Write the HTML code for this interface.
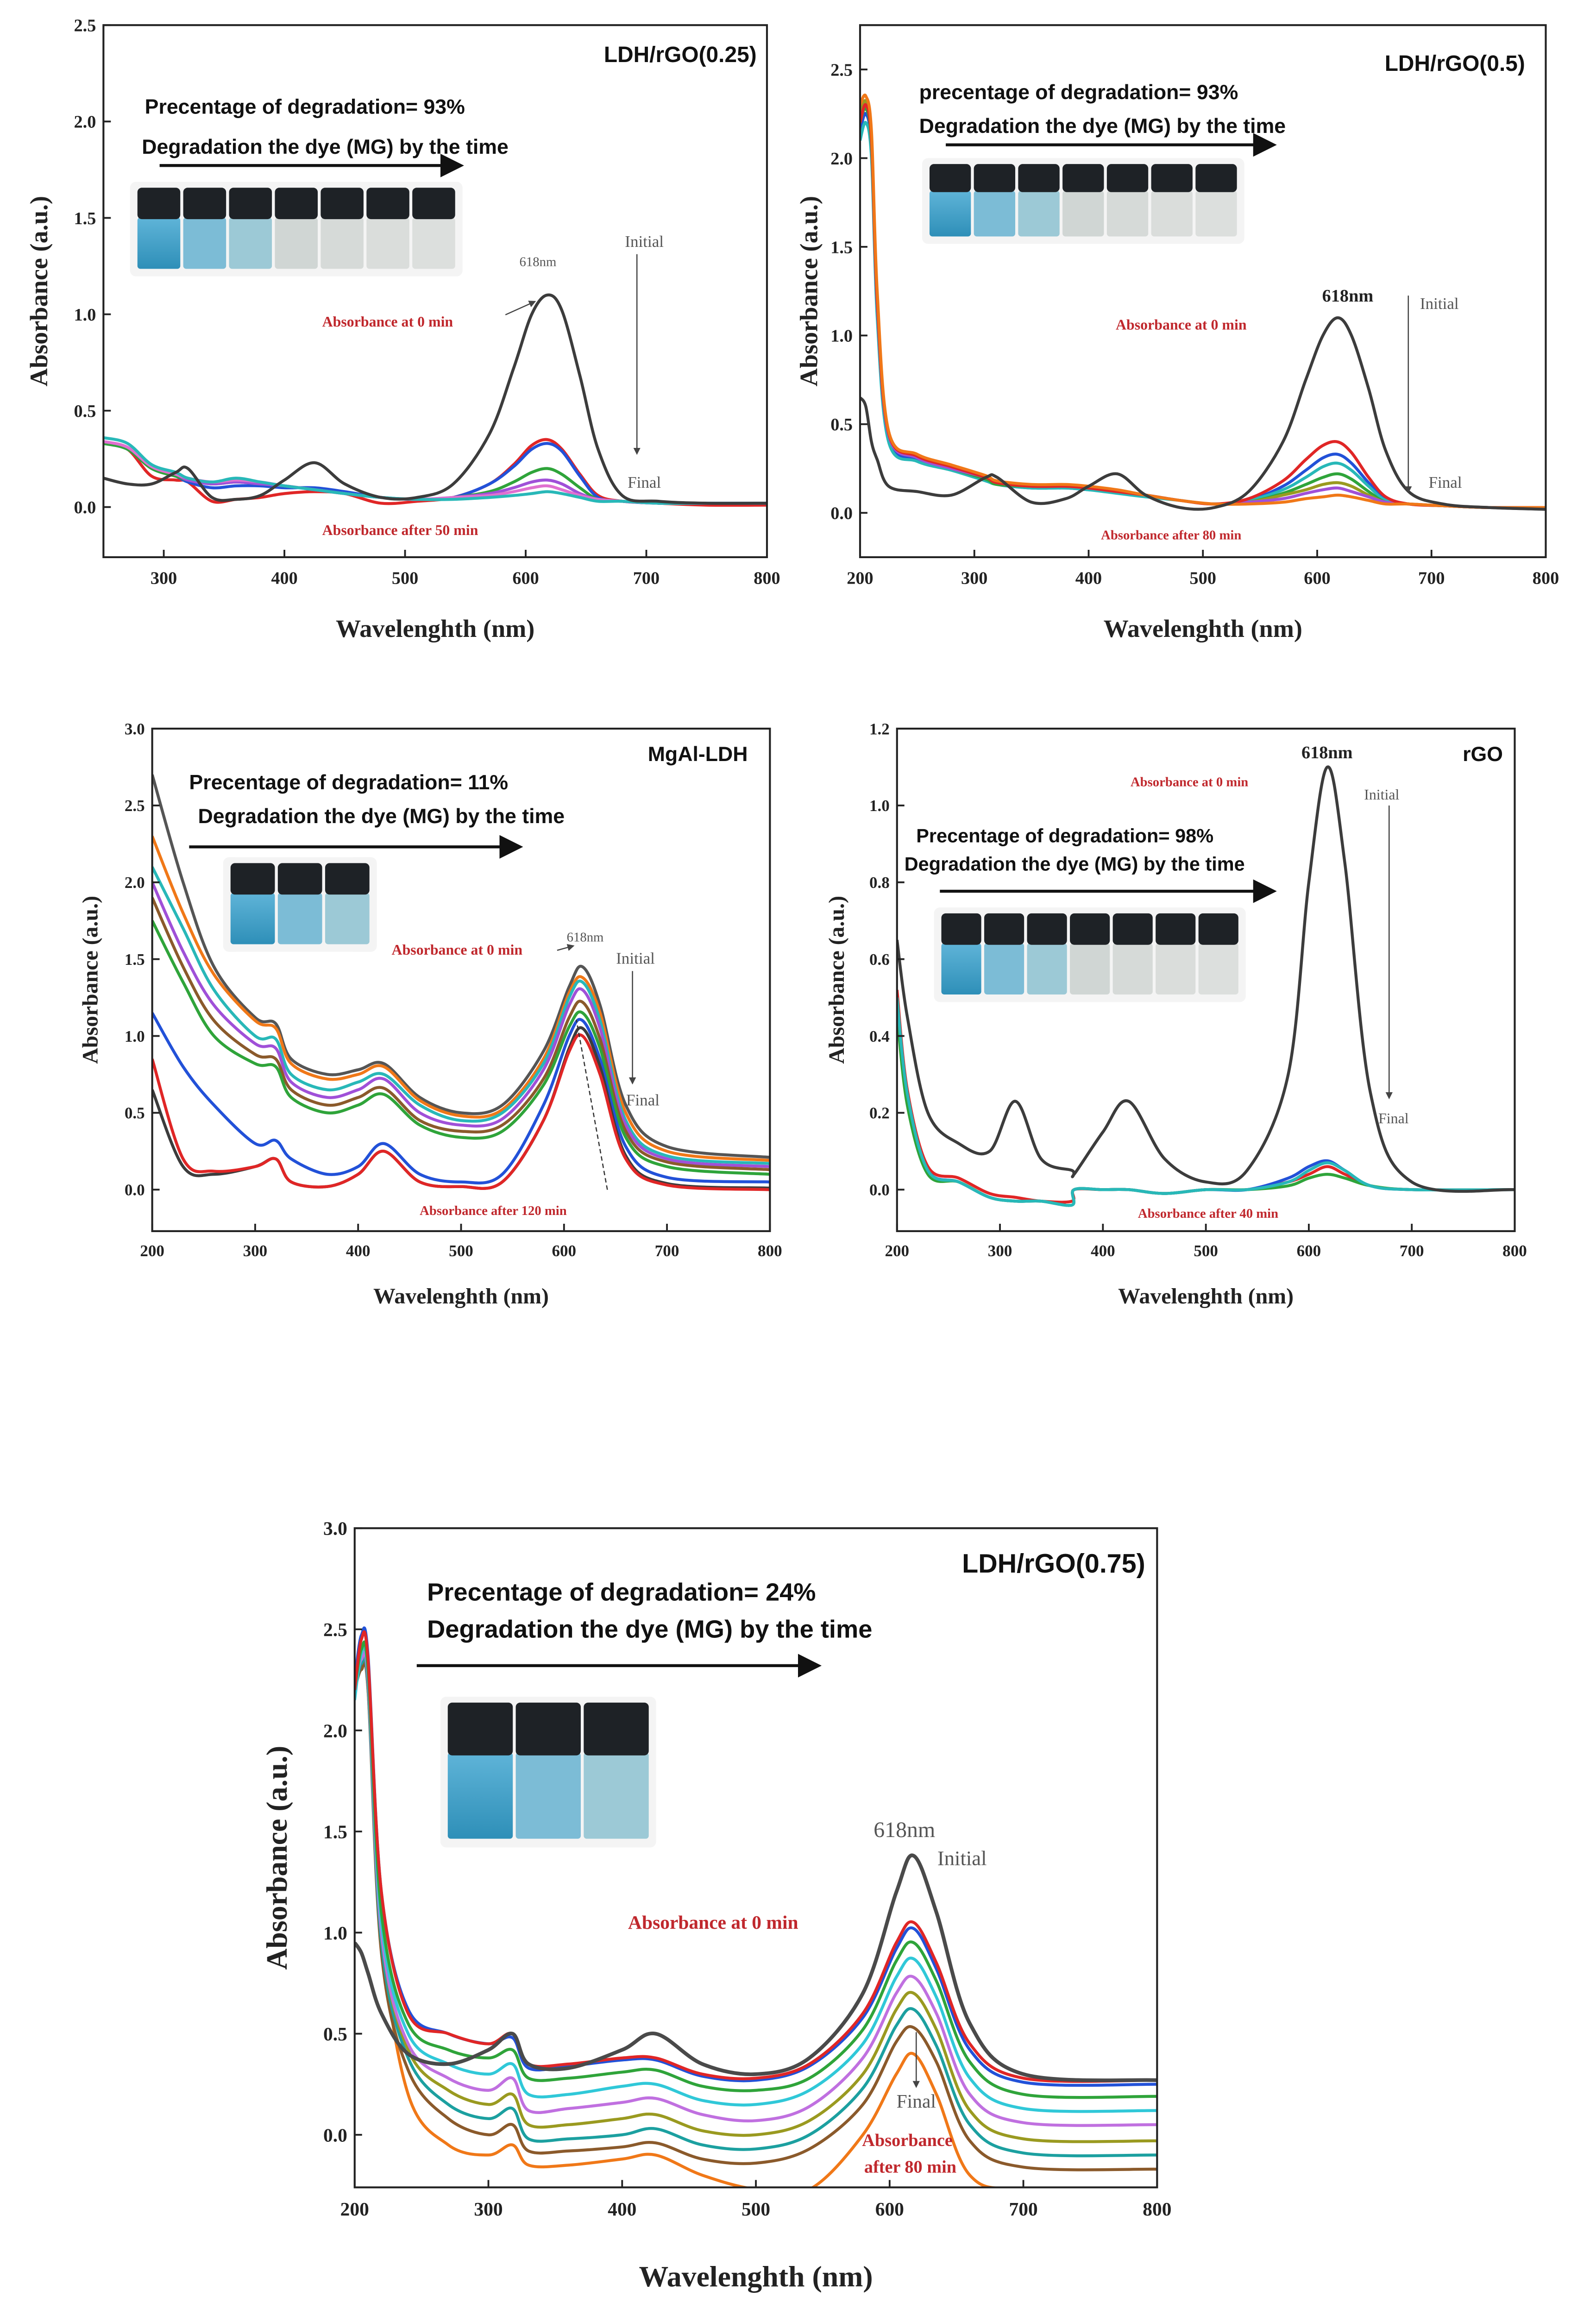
<!DOCTYPE html>
<html><head><meta charset="utf-8"><style>
html,body{margin:0;padding:0;background:#fff;width:3446px;height:5035px;overflow:hidden;}
svg{display:block;}
.ax{font-family:"Liberation Serif",serif;font-weight:bold;fill:#222;}
.sn{font-family:"Liberation Sans",sans-serif;font-weight:bold;fill:#111;}
.rd{font-family:"Liberation Serif",serif;font-weight:bold;fill:#c0282d;}
.gr{font-family:"Liberation Serif",serif;fill:#555;}
</style></head><body>
<svg id="fig" width="3446" height="5035" viewBox="0 0 1080 1578" preserveAspectRatio="none" xmlns="http://www.w3.org/2000/svg">
<defs>
<marker id="ah" markerWidth="8" markerHeight="8" refX="7" refY="4" orient="auto"><path d="M0,0 L8,4 L0,8 z" fill="#111"/></marker>
<marker id="ahs" markerWidth="6" markerHeight="6" refX="5" refY="3" orient="auto"><path d="M0,0 L6,3 L0,6 z" fill="#444"/></marker>
<linearGradient id="liq" x1="0" y1="0" x2="0" y2="1"><stop offset="0" stop-color="#5fb4d8"/><stop offset="1" stop-color="#2e8fb8"/></linearGradient>
</defs>
<g id="root"></g>
</svg>
<script>
// ---------- data ----------
const p1Wave=[250,270,290,310,320,340,360,380,400,425,450,480,510,540,570,590,605,618,630,645,660,680,710,750,800];
const p1Init=[0.15,0.12,0.12,0.18,0.2,0.05,0.04,0.06,0.14,0.23,0.12,0.05,0.05,0.12,0.38,0.72,1.0,1.1,1.02,0.68,0.3,0.06,0.03,0.02,0.02];
const p1Red=[0.33,0.3,0.16,0.14,0.13,0.03,0.04,0.05,0.07,0.08,0.07,0.02,0.03,0.05,0.12,0.22,0.32,0.35,0.3,0.17,0.06,0.03,0.02,0.01,0.01];
const p1Blue=[0.33,0.3,0.2,0.16,0.13,0.1,0.11,0.11,0.1,0.1,0.08,0.05,0.04,0.05,0.12,0.21,0.3,0.33,0.29,0.16,0.05,0.03,0.02,0.02,0.02];
const p1Green=[0.33,0.3,0.2,0.16,0.14,0.12,0.13,0.12,0.11,0.09,0.07,0.05,0.04,0.05,0.08,0.13,0.18,0.2,0.17,0.1,0.04,0.03,0.02,0.02,0.02];
const p1Purple=[0.34,0.31,0.21,0.17,0.14,0.12,0.13,0.12,0.11,0.09,0.07,0.05,0.04,0.05,0.07,0.1,0.13,0.14,0.12,0.07,0.04,0.03,0.02,0.02,0.02];
const p1Pink=[0.34,0.31,0.21,0.17,0.15,0.13,0.14,0.13,0.11,0.09,0.07,0.05,0.04,0.05,0.06,0.08,0.1,0.11,0.09,0.06,0.04,0.03,0.02,0.02,0.02];
const p1Cyan=[0.36,0.33,0.22,0.18,0.15,0.13,0.15,0.13,0.11,0.09,0.07,0.05,0.04,0.04,0.05,0.06,0.07,0.08,0.07,0.05,0.03,0.03,0.02,0.02,0.02];

const p2Wave=[200,205,210,215,225,250,280,310,320,350,380,400,425,450,480,510,540,570,590,605,618,630,645,660,680,710,750,800];
const p2Init=[0.65,0.6,0.4,0.3,0.15,0.12,0.1,0.2,0.2,0.06,0.08,0.15,0.22,0.1,0.03,0.03,0.12,0.4,0.75,1.0,1.1,1.0,0.7,0.35,0.12,0.05,0.03,0.02];
const p2Red=[2.2,2.3,2.1,1.2,0.45,0.32,0.26,0.2,0.17,0.15,0.15,0.14,0.12,0.1,0.07,0.05,0.08,0.18,0.3,0.38,0.4,0.34,0.2,0.09,0.05,0.04,0.03,0.03];
const p2Blue=[2.15,2.25,2.05,1.15,0.42,0.3,0.25,0.19,0.16,0.14,0.14,0.13,0.12,0.1,0.07,0.05,0.07,0.15,0.24,0.31,0.33,0.28,0.17,0.08,0.05,0.04,0.03,0.03];
const p2Cyan=[2.1,2.2,2.0,1.1,0.4,0.29,0.24,0.18,0.16,0.14,0.14,0.13,0.11,0.09,0.07,0.05,0.07,0.13,0.2,0.26,0.28,0.24,0.15,0.07,0.05,0.04,0.03,0.03];
const p2Green=[2.2,2.28,2.08,1.18,0.44,0.31,0.25,0.19,0.16,0.15,0.15,0.14,0.12,0.1,0.07,0.05,0.06,0.11,0.16,0.2,0.22,0.19,0.12,0.06,0.05,0.04,0.03,0.03];
const p2Olive=[2.25,2.32,2.1,1.2,0.45,0.32,0.26,0.2,0.17,0.15,0.15,0.14,0.12,0.1,0.07,0.05,0.06,0.1,0.13,0.16,0.17,0.15,0.1,0.06,0.05,0.04,0.03,0.03];
const p2Purple=[2.2,2.3,2.1,1.18,0.44,0.31,0.25,0.2,0.17,0.15,0.15,0.14,0.12,0.1,0.07,0.05,0.06,0.08,0.11,0.13,0.14,0.12,0.09,0.06,0.05,0.04,0.03,0.03];
const p2Orange=[2.3,2.35,2.15,1.25,0.46,0.33,0.27,0.21,0.18,0.16,0.16,0.15,0.13,0.1,0.07,0.05,0.05,0.06,0.08,0.09,0.1,0.09,0.07,0.05,0.05,0.04,0.03,0.03];

const p3Wave=[200,230,260,300,320,335,370,400,425,460,500,540,580,605,618,635,660,700,800];
const p3Gray=[2.7,2.0,1.45,1.12,1.08,0.85,0.75,0.78,0.82,0.6,0.5,0.55,0.9,1.32,1.45,1.2,0.55,0.28,0.21];
const p3Orange=[2.3,1.8,1.4,1.1,1.05,0.82,0.72,0.75,0.8,0.58,0.48,0.52,0.85,1.28,1.38,1.15,0.5,0.25,0.19];
const p3Cyan=[2.1,1.7,1.3,1.0,0.98,0.75,0.65,0.7,0.75,0.55,0.45,0.5,0.82,1.25,1.35,1.1,0.45,0.22,0.17];
const p3Purple=[2.0,1.55,1.2,0.95,0.92,0.7,0.6,0.65,0.72,0.5,0.42,0.46,0.78,1.2,1.3,1.05,0.42,0.2,0.15];
const p3Brown=[1.9,1.45,1.1,0.88,0.85,0.65,0.55,0.6,0.66,0.45,0.38,0.42,0.72,1.12,1.22,0.98,0.38,0.18,0.13];
const p3Green=[1.75,1.35,1.0,0.82,0.8,0.6,0.5,0.55,0.62,0.42,0.34,0.38,0.68,1.06,1.15,0.92,0.34,0.15,0.1];
const p3Blue=[1.15,0.8,0.55,0.3,0.32,0.2,0.1,0.15,0.3,0.1,0.05,0.1,0.55,1.0,1.1,0.85,0.28,0.08,0.05];
const p3Red=[0.85,0.2,0.12,0.15,0.2,0.05,0.02,0.1,0.25,0.05,0.02,0.05,0.45,0.9,1.0,0.75,0.2,0.03,0.0];
const p3Dark=[0.65,0.15,0.1,0.15,0.2,0.05,0.02,0.1,0.25,0.05,0.02,0.05,0.45,0.92,1.05,0.8,0.22,0.04,0.01];

const p4Wave=[200,210,230,260,290,315,340,370,372,400,425,460,500,540,580,600,618,635,660,700,800];
const p4Init=[0.65,0.45,0.2,0.12,0.1,0.23,0.08,0.05,0.04,0.15,0.23,0.08,0.02,0.05,0.3,0.8,1.1,0.85,0.25,0.02,0.0];
const p4Cyan=[0.5,0.25,0.05,0.02,-0.02,-0.03,-0.03,-0.04,0.0,0.0,0.0,-0.01,0.0,0.0,0.02,0.05,0.07,0.05,0.01,0.0,0.0];
const p4Red=[0.52,0.26,0.06,0.03,-0.01,-0.02,-0.03,-0.03,0.0,0.0,0.0,-0.01,0.0,0.0,0.02,0.04,0.06,0.04,0.01,0.0,0.0];
const p4Blue=[0.48,0.24,0.05,0.02,-0.02,-0.03,-0.03,-0.04,0.0,0.0,0.0,-0.01,0.0,0.0,0.03,0.06,0.075,0.05,0.01,0.0,0.0];
const p4Green=[0.46,0.22,0.04,0.02,-0.02,-0.03,-0.03,-0.04,0.0,0.0,0.0,-0.01,0.0,0.0,0.01,0.03,0.04,0.03,0.01,0.0,0.0];

const p5Wave=[200,205,210,220,240,270,300,318,330,360,400,425,460,500,540,580,605,618,635,660,700,800];
const p5Gray=[0.95,0.9,0.8,0.6,0.4,0.35,0.42,0.5,0.35,0.33,0.42,0.5,0.35,0.3,0.38,0.7,1.2,1.38,1.1,0.55,0.3,0.27];
const p5Red=[2.2,2.45,2.35,1.2,0.6,0.5,0.45,0.5,0.35,0.35,0.38,0.38,0.3,0.28,0.35,0.6,0.95,1.05,0.85,0.45,0.28,0.27];
const p5Blue=[2.25,2.47,2.37,1.2,0.62,0.5,0.45,0.48,0.33,0.34,0.37,0.37,0.29,0.27,0.34,0.58,0.92,1.02,0.82,0.42,0.26,0.25];
const p5Green=[2.2,2.4,2.3,1.1,0.55,0.42,0.38,0.42,0.28,0.28,0.31,0.32,0.24,0.22,0.28,0.52,0.86,0.95,0.76,0.36,0.2,0.19];
const p5Cyan=[2.15,2.38,2.28,1.05,0.5,0.35,0.3,0.35,0.2,0.2,0.24,0.25,0.17,0.15,0.22,0.45,0.78,0.87,0.68,0.28,0.13,0.12];
const p5Purple=[2.2,2.35,2.25,1.0,0.45,0.28,0.22,0.28,0.12,0.13,0.16,0.18,0.1,0.07,0.14,0.38,0.7,0.78,0.6,0.2,0.06,0.05];
const p5Olive=[2.25,2.37,2.27,1.0,0.42,0.22,0.15,0.2,0.05,0.05,0.08,0.1,0.02,0.0,0.07,0.3,0.62,0.7,0.52,0.12,-0.02,-0.03];
const p5Teal=[2.18,2.33,2.22,0.95,0.38,0.15,0.08,0.13,-0.02,-0.02,0.0,0.03,-0.05,-0.07,0.0,0.23,0.54,0.62,0.44,0.05,-0.09,-0.1];
const p5Brown=[2.2,2.3,2.2,0.9,0.32,0.08,0.0,0.05,-0.08,-0.08,-0.06,-0.04,-0.12,-0.14,-0.07,0.15,0.46,0.53,0.36,-0.03,-0.16,-0.17];
const p5Orange=[2.2,2.4,2.2,1.0,0.2,-0.05,-0.1,-0.05,-0.15,-0.15,-0.12,-0.1,-0.2,-0.27,-0.27,0.0,0.3,0.4,0.2,-0.2,-0.27,-0.27];

// ---------- drawing ----------
const NS="http://www.w3.org/2000/svg";
const root=document.getElementById('root');
function mk(tag,attrs,parent,text){const e=document.createElementNS(NS,tag);for(const k in attrs)e.setAttribute(k,attrs[k]);if(text!==undefined)e.textContent=text;(parent||root).appendChild(e);return e;}
function smooth(pts){let d='M'+pts[0][0].toFixed(2)+','+pts[0][1].toFixed(2);for(let i=0;i<pts.length-1;i++){const p0=pts[Math.max(0,i-1)],p1=pts[i],p2=pts[i+1],p3=pts[Math.min(pts.length-1,i+2)];const c1x=p1[0]+(p2[0]-p0[0])/6,c1y=p1[1]+(p2[1]-p0[1])/6,c2x=p2[0]-(p3[0]-p1[0])/6,c2y=p2[1]-(p3[1]-p1[1])/6;d+=' C'+c1x.toFixed(2)+','+c1y.toFixed(2)+' '+c2x.toFixed(2)+','+c2y.toFixed(2)+' '+p2[0].toFixed(2)+','+p2[1].toFixed(2);}return d;}

function panel(cfg){
  const g=mk('g',{});
  
  
  const {x0,x1,y0,y1,wmin,wmax,amin,amax}=cfg;
  const X=w=>x0+(w-wmin)/(wmax-wmin)*(x1-x0);
  const Y=a=>y1-(a-amin)/(amax-amin)*(y1-y0);
  const cid='clip-'+cfg.name;
  const cp=mk('clipPath',{id:cid},g);mk('rect',{x:x0,y:y0,width:x1-x0,height:y1-y0},cp);
  const sg=mk('g',{'clip-path':'url(#'+cid+')'},g);
  cfg.series.forEach(s=>{
    const p=mk('path',{d:smooth(cfg.wave.map((w,i)=>[X(w),Y(s.v[i])])),fill:'none',stroke:s.c,'stroke-width':s.w||2,'stroke-linejoin':'round'},sg);
    
    
  });
  const fr=mk('rect',{x:x0,y:y0,width:x1-x0,height:y1-y0,fill:'none',stroke:'#222','stroke-width':1.3},g);
  
  
  cfg.xt.forEach(t=>{
    const xx=X(t);mk('line',{x1:xx,y1:y1,x2:xx,y2:y1-5,stroke:'#222','stroke-width':1.2},g);
    const tx=mk('text',{x:xx,y:y1+cfg.fs+6,'text-anchor':'middle','font-size':cfg.fs,class:'ax'},g,String(t));
    
    
  });
  cfg.yt.forEach(t=>{
    const yy=Y(t);mk('line',{x1:x0,y1:yy,x2:x0+5,y2:yy,stroke:'#222','stroke-width':1.2},g);
    const tx=mk('text',{x:x0-5,y:yy+cfg.fs*0.35,'text-anchor':'end','font-size':cfg.fs,class:'ax'},g,t.toFixed(1));
    
    
  });
  const xl=mk('text',{x:(x0+x1)/2,y:cfg.xly,'text-anchor':'middle','font-size':cfg.tfs,class:'ax'},g,'Wavelenghth (nm)');
  
  
  const yl=mk('text',{x:0,y:0,transform:'translate('+cfg.ylx+','+((y0+y1)/2)+') rotate(-90)','text-anchor':'middle','font-size':cfg.tfs,class:'ax'},g,'Absorbance (a.u.)');
  
  
  return {g,X,Y};
}
function txt(g,x,y,s,cls,fs,name,anchor){const t=mk('text',{x:x,y:y,'font-size':fs,class:cls,'text-anchor':anchor||'start'},g,s);return t;}
function vials(g,x,y,n,w,h,name){
  const vg=mk('g',{},g);
  mk('rect',{x:x-4,y:y-4,width:n*w+8,height:h+8,fill:'#f4f4f4',rx:4},vg);
  const cols=['#3aa3cf','#7cbcd6','#9cc9d6','#d0d6d4','#d6dad8','#dadddb','#dcdfdd'];
  for(let i=0;i<n;i++){const vx=x+i*w;
    mk('rect',{x:vx+1,y:y+h*0.36,width:w-2,height:h*0.62,fill:i==0?'url(#liq)':cols[Math.min(i,cols.length-1)],rx:2},vg);
    mk('rect',{x:vx+1,y:y,width:w-2,height:h*0.38,fill:'#1e2226',rx:3},vg);}
}
function arrow(g,x1,y1,x2,y2,sw,m,c){mk('line',{x1,y1,x2,y2,stroke:c||'#111','stroke-width':sw,'marker-end':'url(#'+m+')'},g);}

// Panel 1
let P=panel({name:'panel-ldh-rgo-025',x0:70,x1:519,y0:17,y1:377,wmin:250,wmax:800,amin:-0.26,amax:2.5,wave:p1Wave,
 xt:[300,400,500,600,700,800],yt:[0,0.5,1,1.5,2,2.5],fs:12,tfs:17,xly:431,ylx:32,
 series:[{n:'red',c:'#e02626',v:p1Red},{n:'blue',c:'#2251d8',v:p1Blue},{n:'green',c:'#2fa43a',v:p1Green},{n:'purple',c:'#a050d8',v:p1Purple},{n:'pink',c:'#e070d0',v:p1Pink},{n:'cyan',c:'#28b8b8',v:p1Cyan},{n:'initial',c:'#3c3c3c',v:p1Init}]});
txt(P.g,512,42,'LDH/rGO(0.25)','sn',15,'panel-label','end');
txt(P.g,98,77,'Precentage of degradation= 93%','sn',14,'degradation-percentage');
txt(P.g,96,104,'Degradation the dye (MG) by the time','sn',14,'degradation-caption');
arrow(P.g,108,112,312,112,2,'ah');
vials(P.g,92,127,7,31,56,'vials-photo');
txt(P.g,364,180,'618nm','gr',9,'peak-label','middle');
txt(P.g,436,167,'Initial','gr',11,'initial-label','middle');
arrow(P.g,431,172,431,307,0.8,'ahs','#444');
txt(P.g,436,330,'Final','gr',11,'final-label','middle');
txt(P.g,218,221,'Absorbance at 0 min','rd',10,'annotation-0min');
arrow(P.g,342,213,362,204,0.8,'ahs','#444');
txt(P.g,218,362,'Absorbance after 50 min','rd',10,'annotation-50min');

// Panel 2
P=panel({name:'panel-ldh-rgo-05',x0:582,x1:1046,y0:17,y1:377,wmin:200,wmax:800,amin:-0.25,amax:2.75,wave:p2Wave,
 xt:[200,300,400,500,600,700,800],yt:[0,0.5,1,1.5,2,2.5],fs:12,tfs:17,xly:431,ylx:553,
 series:[{n:'blue',c:'#2251d8',v:p2Blue},{n:'cyan',c:'#28b8b8',v:p2Cyan},{n:'green',c:'#2fa43a',v:p2Green},{n:'olive',c:'#9a9a20',v:p2Olive},{n:'purple',c:'#a050d8',v:p2Purple},{n:'red',c:'#e02626',v:p2Red},{n:'orange',c:'#f07818',v:p2Orange},{n:'initial',c:'#3c3c3c',v:p2Init}]});
txt(P.g,1032,48,'LDH/rGO(0.5)','sn',15,'panel-label','end');
txt(P.g,622,67,'precentage of degradation= 93%','sn',14,'degradation-percentage');
txt(P.g,622,90,'Degradation the dye (MG) by the time','sn',14,'degradation-caption');
arrow(P.g,640,98,862,98,2,'ah');
vials(P.g,628,111,7,30,50,'vials-photo');
txt(P.g,912,204,'618nm','ax',12,'peak-label','middle');
txt(P.g,974,209,'Initial','gr',11,'initial-label','middle');
arrow(P.g,953,200,953,333,0.8,'ahs','#444');
txt(P.g,978,330,'Final','gr',11,'final-label','middle');
txt(P.g,755,223,'Absorbance at 0 min','rd',10,'annotation-0min');
txt(P.g,745,365,'Absorbance after 80 min','rd',9,'annotation-80min');

// Panel 3
P=panel({name:'panel-mgal-ldh',x0:103,x1:521,y0:493,y1:833,wmin:200,wmax:800,amin:-0.27,amax:3.0,wave:p3Wave,
 xt:[200,300,400,500,600,700,800],yt:[0,0.5,1,1.5,2,2.5,3],fs:11,tfs:15,xly:882,ylx:66,
 series:[{n:'gray',c:'#555',v:p3Gray},{n:'orange',c:'#f07818',v:p3Orange},{n:'cyan',c:'#28b8b8',v:p3Cyan},{n:'purple',c:'#a050d8',v:p3Purple},{n:'brown',c:'#8b5a2b',v:p3Brown},{n:'green',c:'#2fa43a',v:p3Green},{n:'blue',c:'#2251d8',v:p3Blue},{n:'dark',c:'#3c3c3c',v:p3Dark},{n:'red',c:'#e02626',v:p3Red}]});
txt(P.g,506,515,'MgAl-LDH','sn',14,'panel-label','end');
txt(P.g,128,534,'Precentage of degradation= 11%','sn',14,'degradation-percentage');
txt(P.g,134,557,'Degradation the dye (MG) by the time','sn',14,'degradation-caption');
arrow(P.g,128,573,352,573,2,'ah');
vials(P.g,155,584,3,32,56,'vials-photo');
txt(P.g,396,637,'618nm','gr',9,'peak-label','middle');
txt(P.g,430,652,'Initial','gr',11,'initial-label','middle');
arrow(P.g,428,657,428,733,0.8,'ahs','#444');
txt(P.g,435,748,'Final','gr',11,'final-label','middle');
txt(P.g,265,646,'Absorbance at 0 min','rd',10,'annotation-0min');
arrow(P.g,377,643,388,640,0.8,'ahs','#444');
mk('line',{x1:411,y1:805,x2:390,y2:690,stroke:'#333','stroke-width':0.8,'stroke-dasharray':'3,2'},P.g);
txt(P.g,284,822,'Absorbance after 120 min','rd',9,'annotation-120min');

// Panel 4
P=panel({name:'panel-rgo',x0:607,x1:1025,y0:493,y1:833,wmin:200,wmax:800,amin:-0.108,amax:1.2,wave:p4Wave,
 xt:[200,300,400,500,600,700,800],yt:[0,0.2,0.4,0.6,0.8,1.0,1.2],fs:11,tfs:15,xly:882,ylx:571,
 series:[{n:'red',c:'#e02626',v:p4Red},{n:'blue',c:'#2251d8',v:p4Blue},{n:'green',c:'#2fa43a',v:p4Green},{n:'cyan',c:'#28b8b8',v:p4Cyan},{n:'initial',c:'#3c3c3c',v:p4Init}]});
txt(P.g,1017,515,'rGO','sn',14,'panel-label','end');
txt(P.g,898,513,'618nm','ax',12,'peak-label','middle');
txt(P.g,765,532,'Absorbance at 0 min','rd',9,'annotation-0min');
txt(P.g,935,541,'Initial','gr',10,'initial-label','middle');
arrow(P.g,940,545,940,743,0.8,'ahs','#444');
txt(P.g,943,760,'Final','gr',10,'final-label','middle');
txt(P.g,620,570,'Precentage of degradation= 98%','sn',13,'degradation-percentage');
txt(P.g,612,589,'Degradation the dye (MG) by the time','sn',13,'degradation-caption');
arrow(P.g,636,603,862,603,2,'ah');
vials(P.g,636,618,7,29,56,'vials-photo');
txt(P.g,770,824,'Absorbance after 40 min','rd',9,'annotation-40min');

// Panel 5
P=panel({name:'panel-ldh-rgo-075',x0:240,x1:783,y0:1034,y1:1480,wmin:200,wmax:800,amin:-0.26,amax:3.0,wave:p5Wave,
 xt:[200,300,400,500,600,700,800],yt:[0,0.5,1,1.5,2,2.5,3],fs:13,tfs:20,xly:1547,ylx:194,
 series:[{n:'orange',c:'#f07818',v:p5Orange},{n:'brown',c:'#8b5a2b',v:p5Brown},{n:'teal',c:'#1ca0a0',v:p5Teal},{n:'olive',c:'#9a9a20',v:p5Olive},{n:'purple',c:'#c070e0',v:p5Purple},{n:'cyan',c:'#30c8d8',v:p5Cyan},{n:'green',c:'#2fa43a',v:p5Green},{n:'blue',c:'#2251d8',v:p5Blue},{n:'red',c:'#e02626',v:p5Red},{n:'initial',c:'#4a4a4a',v:p5Gray,w:2.5}]});
txt(P.g,775,1064,'LDH/rGO(0.75)','sn',18,'panel-label','end');
txt(P.g,289,1083,'Precentage of degradation= 24%','sn',17,'degradation-percentage');
txt(P.g,289,1108,'Degradation the dye (MG) by the time','sn',17,'degradation-caption');
arrow(P.g,282,1127,554,1127,2,'ah');
vials(P.g,302,1152,3,46,94,'vials-photo');
txt(P.g,612,1243,'618nm','gr',15,'peak-label','middle');
txt(P.g,651,1262,'Initial','gr',14,'initial-label','middle');
txt(P.g,425,1305,'Absorbance at 0 min','rd',13,'annotation-0min');
arrow(P.g,620,1375,620,1412,0.8,'ahs','#444');
txt(P.g,620,1426,'Final','gr',13,'final-label','middle');
txt(P.g,614,1452,'Absorbance','rd',12,'annotation-80min','middle');
txt(P.g,616,1470,'after 80 min','rd',12,'annotation-80min-2','middle');
</script>
</body></html>
